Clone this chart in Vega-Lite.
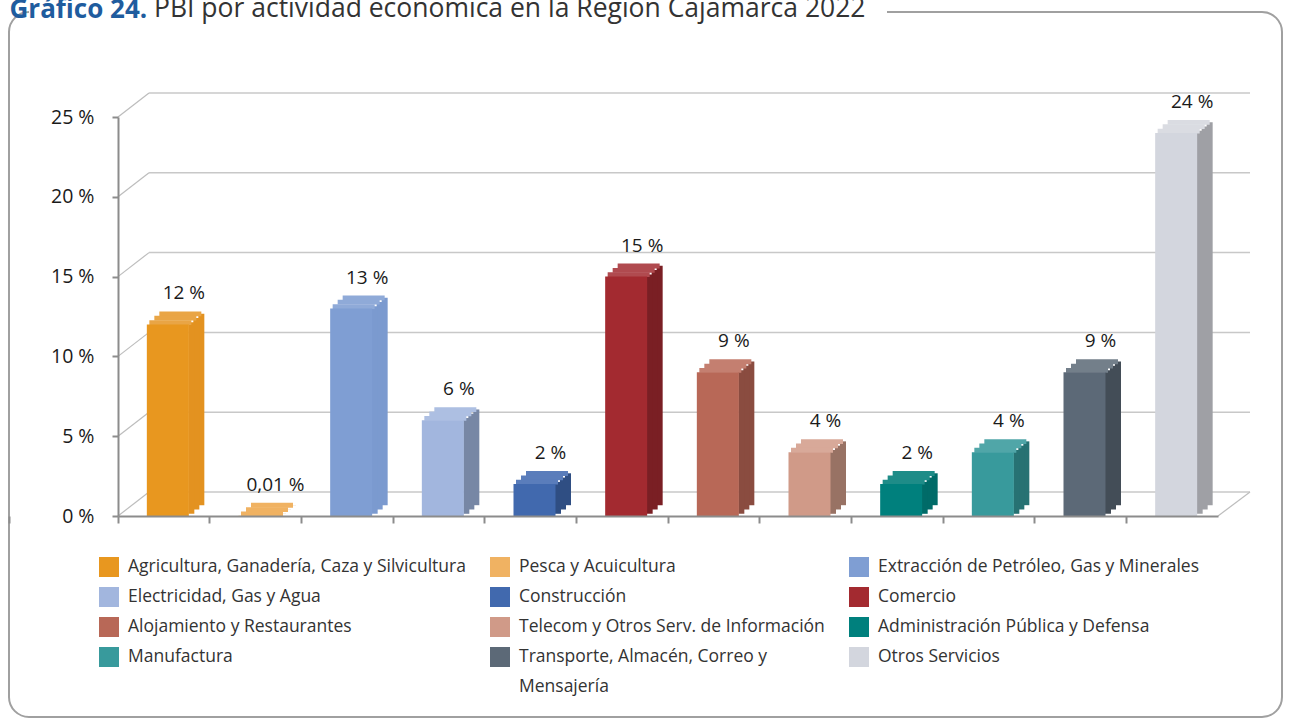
{
  "$schema": "https://vega.github.io/schema/vega-lite/v6.json",
  "width": 1273,
  "height": 705,
  "autosize": {"type": "none"},
  "padding": {"left": 9, "top": 12, "right": 8, "bottom": 2},
  "background": "white",
  "title": {
    "text": "PBI por actividad económica en la Región Cajamarca 2022",
    "anchor": "start",
    "frame": "group",
    "dx": 145,
    "fontSize": 26.5,
    "fontWeight": "normal",
    "color": "#333333",
    "font": "Open Sans",
    "baseline": "alphabetic",
    "offset": -47
  },
  "config": {
    "font": "Open Sans",
    "view": {"stroke": "#A0A0A0", "strokeWidth": 2, "cornerRadius": 20, "strokeDash": [0, 858, 5000], "fill": "white"},
    "style": {"guide-label": {"lineHeight": 30}}
  },
  "datasets": {
    "bars": [
      {"c": "Agricultura, Ganadería, Caza y Silvicultura", "v": 12, "l": "12 %"},
      {"c": "Pesca y Acuicultura", "v": 0.01, "l": "0,01 %"},
      {"c": "Extracción de Petróleo, Gas y Minerales", "v": 13, "l": "13 %"},
      {"c": "Electricidad, Gas y Agua", "v": 6, "l": "6 %"},
      {"c": "Construcción", "v": 2, "l": "2 %"},
      {"c": "Comercio", "v": 15, "l": "15 %"},
      {"c": "Alojamiento y Restaurantes", "v": 9, "l": "9 %"},
      {"c": "Telecom y Otros Serv. de Información", "v": 4, "l": "4 %"},
      {"c": "Administración Pública y Defensa", "v": 2, "l": "2 %"},
      {"c": "Manufactura", "v": 4, "l": "4 %"},
      {"c": "Transporte, Almacén, Correo y Mensajería", "v": 9, "l": "9 %"},
      {"c": "Otros Servicios", "v": 24, "l": "24 %"}
    ],
    "grid": [{"g": 0}, {"g": 5}, {"g": 10}, {"g": 15}, {"g": 20}, {"g": 25}]
  },
  "data": {"name": "bars"},
  "resolve": {"scale": {"color": "independent"}},
  "layer": [
    {
      "data": {"name": "grid"},
      "mark": {"type": "rule", "color": "#C8C8C8", "strokeWidth": 1.5, "xOffset": 31, "x2Offset": 32, "yOffset": -24, "y2Offset": -24},
      "encoding": {
        "x": {"datum": "Agricultura, Ganadería, Caza y Silvicultura", "type": "nominal", "bandPosition": 0},
        "x2": {"datum": "Otros Servicios", "bandPosition": 1},
        "y": {"field": "g", "type": "quantitative", "title": "Gráfico 24."},
        "y2": {"field": "g"}
      }
    },
    {
      "data": {"name": "grid"},
      "mark": {"type": "rule", "color": "#BDBDBD", "strokeWidth": 1.2, "x2Offset": 31, "y2Offset": -24},
      "encoding": {
        "x": {"datum": "Agricultura, Ganadería, Caza y Silvicultura", "type": "nominal", "bandPosition": 0},
        "x2": {"datum": "Agricultura, Ganadería, Caza y Silvicultura", "bandPosition": 0},
        "y": {"field": "g", "type": "quantitative", "title": "Gráfico 24."},
        "y2": {"field": "g"}
      }
    },
    {
      "data": {"values": [{"g": 0}]},
      "mark": {"type": "rule", "color": "#BDBDBD", "strokeWidth": 1.2, "x2Offset": 32, "y2Offset": -24},
      "encoding": {
        "x": {"datum": "Otros Servicios", "type": "nominal", "bandPosition": 1},
        "x2": {"datum": "Otros Servicios", "bandPosition": 1},
        "y": {"field": "g", "type": "quantitative", "title": "Gráfico 24."},
        "y2": {"field": "g"}
      }
    },
    {
      "mark": {"type": "bar", "width": 6, "xOffset": 37.5, "yOffset": -10.8, "y2Offset": -10.8},
      "encoding": {
        "x": {"field": "c", "type": "nominal", "sort": null, "title": null},
        "y": {"field": "v", "type": "quantitative", "title": "Gráfico 24."},
        "y2": {"datum": 0},
        "color": {"field": "c", "type": "nominal", "legend": null, "scale": {"domain": ["Agricultura, Ganadería, Caza y Silvicultura", "Pesca y Acuicultura", "Extracción de Petróleo, Gas y Minerales", "Electricidad, Gas y Agua", "Construcción", "Comercio", "Alojamiento y Restaurantes", "Telecom y Otros Serv. de Información", "Administración Pública y Defensa", "Manufactura", "Transporte, Almacén, Correo y Mensajería", "Otros Servicios"], "range": ["#E39220", "#D89E55", "#7B9ACF", "#7787A5", "#2F4E83", "#7A1F24", "#8A4C40", "#987264", "#006B68", "#277273", "#434D57", "#9FA0A5"]}}
      }
    },
    {
      "mark": {"type": "bar", "width": 6, "xOffset": 32.5, "yOffset": -6.5, "y2Offset": -6.5},
      "encoding": {
        "x": {"field": "c", "type": "nominal", "sort": null, "title": null},
        "y": {"field": "v", "type": "quantitative", "title": "Gráfico 24."},
        "y2": {"datum": 0},
        "color": {"field": "c", "type": "nominal", "legend": null, "scale": {"domain": ["Agricultura, Ganadería, Caza y Silvicultura", "Pesca y Acuicultura", "Extracción de Petróleo, Gas y Minerales", "Electricidad, Gas y Agua", "Construcción", "Comercio", "Alojamiento y Restaurantes", "Telecom y Otros Serv. de Información", "Administración Pública y Defensa", "Manufactura", "Transporte, Almacén, Correo y Mensajería", "Otros Servicios"], "range": ["#E39220", "#D89E55", "#7B9ACF", "#7787A5", "#2F4E83", "#7A1F24", "#8A4C40", "#987264", "#006B68", "#277273", "#434D57", "#9FA0A5"]}}
      }
    },
    {
      "mark": {"type": "bar", "width": 6, "xOffset": 27.5, "yOffset": -2.2, "y2Offset": -2.2},
      "encoding": {
        "x": {"field": "c", "type": "nominal", "sort": null, "title": null},
        "y": {"field": "v", "type": "quantitative", "title": "Gráfico 24."},
        "y2": {"datum": 0},
        "color": {"field": "c", "type": "nominal", "legend": null, "scale": {"domain": ["Agricultura, Ganadería, Caza y Silvicultura", "Pesca y Acuicultura", "Extracción de Petróleo, Gas y Minerales", "Electricidad, Gas y Agua", "Construcción", "Comercio", "Alojamiento y Restaurantes", "Telecom y Otros Serv. de Información", "Administración Pública y Defensa", "Manufactura", "Transporte, Almacén, Correo y Mensajería", "Otros Servicios"], "range": ["#E39220", "#D89E55", "#7B9ACF", "#7787A5", "#2F4E83", "#7A1F24", "#8A4C40", "#987264", "#006B68", "#277273", "#434D57", "#9FA0A5"]}}
      }
    },
    {
      "mark": {"type": "bar", "width": 42, "xOffset": 16.5, "yOffset": -13, "y2Offset": -8.2},
      "encoding": {
        "x": {"field": "c", "type": "nominal", "sort": null, "title": null},
        "y": {"field": "v", "type": "quantitative", "title": "Gráfico 24."},
        "y2": {"field": "v"},
        "color": {"field": "c", "type": "nominal", "legend": null, "scale": {"domain": ["Agricultura, Ganadería, Caza y Silvicultura", "Pesca y Acuicultura", "Extracción de Petróleo, Gas y Minerales", "Electricidad, Gas y Agua", "Construcción", "Comercio", "Alojamiento y Restaurantes", "Telecom y Otros Serv. de Información", "Administración Pública y Defensa", "Manufactura", "Transporte, Almacén, Correo y Mensajería", "Otros Servicios"], "range": ["#E9A545", "#F0B262", "#8FAAD8", "#ADBFE2", "#5A7DBB", "#B04A4F", "#C47F70", "#D8A999", "#1E8C88", "#50A6A8", "#737F8A", "#DADCE2"]}}
      }
    },
    {
      "mark": {"type": "bar", "width": 42, "xOffset": 11.5, "yOffset": -8.67, "y2Offset": -3.9},
      "encoding": {
        "x": {"field": "c", "type": "nominal", "sort": null, "title": null},
        "y": {"field": "v", "type": "quantitative", "title": "Gráfico 24."},
        "y2": {"field": "v"},
        "color": {"field": "c", "type": "nominal", "legend": null, "scale": {"domain": ["Agricultura, Ganadería, Caza y Silvicultura", "Pesca y Acuicultura", "Extracción de Petróleo, Gas y Minerales", "Electricidad, Gas y Agua", "Construcción", "Comercio", "Alojamiento y Restaurantes", "Telecom y Otros Serv. de Información", "Administración Pública y Defensa", "Manufactura", "Transporte, Almacén, Correo y Mensajería", "Otros Servicios"], "range": ["#E9A545", "#F0B262", "#8FAAD8", "#ADBFE2", "#5A7DBB", "#B04A4F", "#C47F70", "#D8A999", "#1E8C88", "#50A6A8", "#737F8A", "#DADCE2"]}}
      }
    },
    {
      "mark": {"type": "bar", "width": 42, "xOffset": 6.5, "yOffset": -4.33, "y2Offset": 0.5},
      "encoding": {
        "x": {"field": "c", "type": "nominal", "sort": null, "title": null},
        "y": {"field": "v", "type": "quantitative", "title": "Gráfico 24."},
        "y2": {"field": "v"},
        "color": {"field": "c", "type": "nominal", "legend": null, "scale": {"domain": ["Agricultura, Ganadería, Caza y Silvicultura", "Pesca y Acuicultura", "Extracción de Petróleo, Gas y Minerales", "Electricidad, Gas y Agua", "Construcción", "Comercio", "Alojamiento y Restaurantes", "Telecom y Otros Serv. de Información", "Administración Pública y Defensa", "Manufactura", "Transporte, Almacén, Correo y Mensajería", "Otros Servicios"], "range": ["#E9A545", "#F0B262", "#8FAAD8", "#ADBFE2", "#5A7DBB", "#B04A4F", "#C47F70", "#D8A999", "#1E8C88", "#50A6A8", "#737F8A", "#DADCE2"]}}
      }
    },
    {
      "mark": {"type": "bar", "width": 42, "xOffset": 4},
      "encoding": {
        "x": {
          "field": "c", "type": "nominal", "sort": null, "title": null,
          "scale": {"domain": ["Agricultura, Ganadería, Caza y Silvicultura", "Pesca y Acuicultura", "Extracción de Petróleo, Gas y Minerales", "Electricidad, Gas y Agua", "Construcción", "Comercio", "Alojamiento y Restaurantes", "Telecom y Otros Serv. de Información", "Administración Pública y Defensa", "Manufactura", "Transporte, Almacén, Correo y Mensajería", "Otros Servicios"], "range": [109, 1209], "paddingInner": 0, "paddingOuter": 0},
          "axis": {"orient": "bottom", "offset": -201, "labels": false, "title": null, "bandPosition": 0, "tickExtra": true, "domainColor": "#8C8C8C", "domainWidth": 2, "tickColor": "#8C8C8C", "tickWidth": 2, "tickSize": 7, "zindex": 1}
        },
        "y": {
          "field": "v", "type": "quantitative", "title": "Gráfico 24.",
          "scale": {"domain": [0, 25], "range": [504, 105], "nice": false},
          "axis": {"values": [0, 5, 10, 15, 20, 25], "offset": -109, "grid": false, "domainColor": "#8C8C8C", "domainWidth": 2, "tickColor": "#8C8C8C", "tickWidth": 2, "tickSize": 6, "labelFontSize": 19.5, "labelColor": "#1A1A1A", "labelPadding": 18, "labelFont": "Open Sans", "labelExpr": "datum.value + ' %'", "title": "Gráfico 24.", "titleAngle": 0, "titleX": -109, "titleY": 5, "titleAlign": "left", "titleBaseline": "alphabetic", "titleFontSize": 26, "titleFontWeight": "bold", "titleColor": "#1F5C9E", "titleFont": "Open Sans", "zindex": 1}
        },
        "y2": {"datum": 0},
        "color": {
          "field": "c", "type": "nominal",
          "scale": {"domain": ["Agricultura, Ganadería, Caza y Silvicultura", "Pesca y Acuicultura", "Extracción de Petróleo, Gas y Minerales", "Electricidad, Gas y Agua", "Construcción", "Comercio", "Alojamiento y Restaurantes", "Telecom y Otros Serv. de Información", "Administración Pública y Defensa", "Manufactura", "Transporte, Almacén, Correo y Mensajería", "Otros Servicios"], "range": ["#E8971F", "#F0B262", "#7F9ED3", "#A2B6DE", "#4169AE", "#A32A30", "#B86857", "#D09A88", "#00807D", "#389A9C", "#5C6977", "#D3D6DE"]},
          "legend": {"orient": "none", "legendX": 90, "legendY": 545, "columns": 3, "direction": "horizontal", "symbolType": "square", "symbolSize": 400, "symbolStrokeWidth": 0, "labelFontSize": 17.5, "labelColor": "#333333", "labelFont": "Open Sans", "labelLimit": 600, "rowPadding": 10, "columnPadding": 24, "title": null, "padding": 0, "labelOffset": 9, "labelExpr": "datum.label == 'Transporte, Almacén, Correo y Mensajería' ? ['Transporte, Almacén, Correo y', 'Mensajería'] : datum.label"}
        }
      }
    },
    {
      "mark": {"type": "text", "xOffset": 20, "yOffset": -31, "fontSize": 19, "font": "Open Sans", "color": "#1A1A1A", "baseline": "middle"},
      "encoding": {
        "x": {"field": "c", "type": "nominal", "sort": null, "title": null},
        "y": {"field": "v", "type": "quantitative", "title": "Gráfico 24."},
        "text": {"field": "l"}
      }
    }
  ]
}
